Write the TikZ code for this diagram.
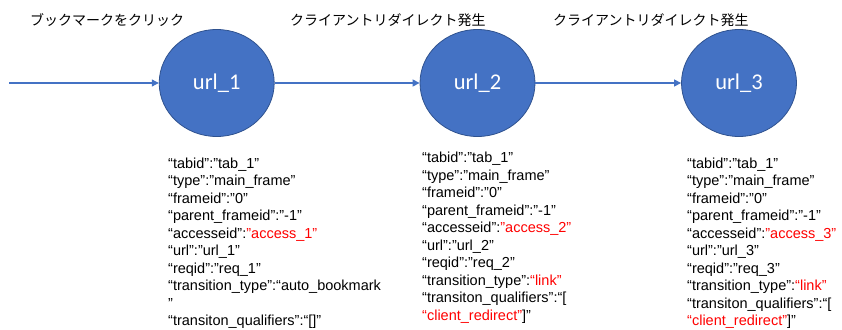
\documentclass[tikz,border=0pt]{standalone}
\usepackage{fontspec}
\setmainfont{Liberation Sans}
\newfontfamily\jpfont{Noto Sans CJK JP}
\newfontfamily\calfont{Carlito}
\usetikzlibrary{arrows.meta,shapes.geometric}
\definecolor{nodeblue}{HTML}{4472C4}
\definecolor{nodeedge}{HTML}{2F528F}
\definecolor{keyred}{HTML}{FF0000}
\newcommand{\rd}[1]{\textcolor{keyred}{#1}}
\begin{document}
\begin{tikzpicture}[x=1pt,y=-1pt]
\tikzset{
  urlnode/.style={ellipse, fill=nodeblue, draw=nodeedge, line width=0.8pt,
    minimum width=115pt, minimum height=107pt, inner sep=0pt, text=white,
    font=\calfont\fontsize{22.5}{26}\selectfont},
  flow/.style={draw=nodeblue, line width=1.1pt, -{Triangle[length=7pt,width=7pt]}},
  caption/.style={font=\jpfont\fontsize{14}{16}\selectfont, anchor=west, inner sep=0pt},
  attrs/.style={font=\fontsize{14.5}{17.5}\selectfont, align=left, anchor=north west, inner sep=0pt},
}
\useasboundingbox (0,0) rectangle (842,329);

% page states
\node[urlnode] (u1) at (216.7,83) {url\_1};
\node[urlnode] (u2) at (477.5,83) {url\_2};
\node[urlnode] (u3) at (739,83) {url\_3};

% transitions
\coordinate (start) at (9.3,83);
\draw[flow] (start) -- (u1);
\draw[flow] (u1) -- (u2);
\draw[flow] (u2) -- (u3);

% transition captions
\node[caption] (c1) at (30,20) {ブックマークをクリック};
\node[caption] (c2) at (290,20) {クライアントリダイレクト発生};
\node[caption] (c3) at (553,20) {クライアントリダイレクト発生};

% request attributes
\node[attrs] (a1) at (168,157.5) {%
“tabid”:”tab\_1”\\
“type”:”main\_frame”\\
“frameid”:”0”\\
“parent\_frameid”:”-1”\\
“accesseid”:\rd{”access\_1”}\\
“url”:”url\_1”\\
“reqid”:”req\_1”\\
“transition\_type”:“auto\_bookmark\\
”\\
“transiton\_qualifiers”:“[]”};

\node[attrs] (a2) at (422,152) {%
“tabid”:”tab\_1”\\
“type”:”main\_frame”\\
“frameid”:”0”\\
“parent\_frameid”:”-1”\\
“accesseid”:\rd{”access\_2”}\\
“url”:”url\_2”\\
“reqid”:”req\_2”\\
“transition\_type”:\rd{“link”}\\
“transiton\_qualifiers”:“[\\
\rd{“client\_redirect”}]”};

\node[attrs] (a3) at (687,157.5) {%
“tabid”:”tab\_1”\\
“type”:”main\_frame”\\
“frameid”:”0”\\
“parent\_frameid”:”-1”\\
“accesseid”:\rd{”access\_3”}\\
“url”:”url\_3”\\
“reqid”:”req\_3”\\
“transition\_type”:\rd{“link”}\\
“transiton\_qualifiers”:“[\\
\rd{“client\_redirect”}]”};
\end{tikzpicture}
\end{document}
